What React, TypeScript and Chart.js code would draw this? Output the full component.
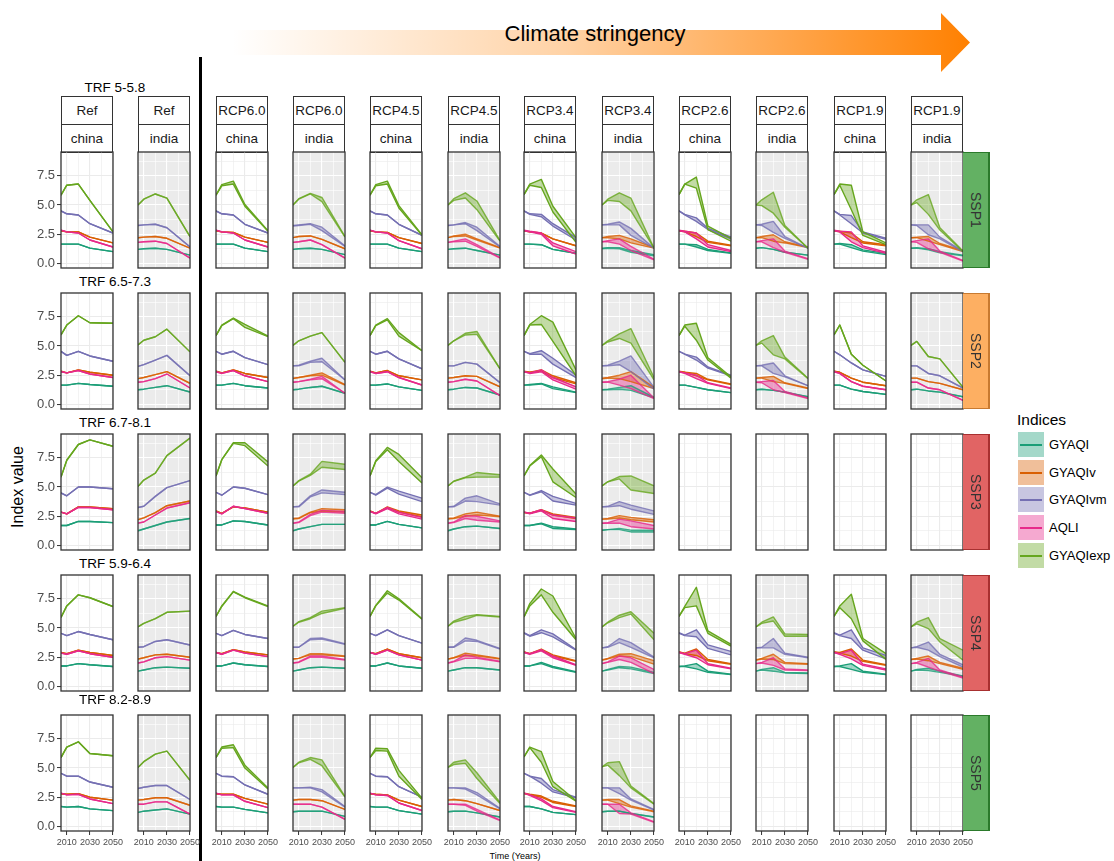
import React, { useEffect, useRef } from 'react';
import { Chart, registerables } from 'chart.js';
Chart.register(...registerables);
Chart.defaults.font.family = '"Liberation Sans", Arial, sans-serif';

// ---------------- data ----------------
const YEARS = [2005, 2010, 2020, 2030, 2050];
const X_TICKS = [2010, 2020, 2030, 2040, 2050];
const X_MAJOR = [2010, 2030, 2050];
const Y_TICKS = [0, 1.25, 2.5, 3.75, 5, 6.25, 7.5, 8.75];
const Y_MAJOR = [0, 2.5, 5, 7.5];
const SCENARIOS = ['Ref', 'Ref', 'RCP6.0', 'RCP6.0', 'RCP4.5', 'RCP4.5', 'RCP3.4', 'RCP3.4', 'RCP2.6', 'RCP2.6', 'RCP1.9', 'RCP1.9'];
const REGIONS = ['china', 'india', 'china', 'india', 'china', 'india', 'china', 'india', 'china', 'india', 'china', 'india'];
const SSP_LABELS = ['SSP1', 'SSP2', 'SSP3', 'SSP4', 'SSP5'];
const TRF_LABELS = ['TRF 5-5.8', 'TRF 6.5-7.3', 'TRF 6.7-8.1', 'TRF 5.9-6.4', 'TRF 8.2-8.9'];
const INDICES = ['GYAQI', 'GYAQIv', 'GYAQIvm', 'AQLI', 'GYAQIexp'];
const INDEX_COLORS = ['#1B9E77', '#D95F02', '#7570B3', '#E7298A', '#66A61E'];

type Entry = number[] | number[][] | null;

// each entry: one panel (column); either a single line or [low, high] band
const SSP1_GYAQI: Entry[] = [
  [1.65, 1.65, 1.65, 1.3, 1.0], [1.2, 1.25, 1.3, 1.2, 0.7], [1.65, 1.65, 1.65, 1.3, 1.0], [1.2, 1.25, 1.3, 1.2, 0.75],
  [1.65, 1.65, 1.65, 1.3, 1.0], [1.2, 1.25, 1.3, 1.1, 0.7], [1.65, 1.65, 1.6, 1.2, 0.85],
  [[1.25, 1.3, 1.25, 0.95, 0.65], [1.3, 1.35, 1.35, 1.1, 0.75]],
  [[1.65, 1.65, 1.4, 1.1, 0.85], [1.65, 1.65, 1.6, 1.2, 0.9]],
  [1.3, 1.35, 1.2, 0.95, 0.7],
  [[1.65, 1.65, 1.35, 1.05, 0.75], [1.65, 1.7, 1.6, 1.15, 0.85]],
  [[1.3, 1.3, 1.15, 0.9, 0.65], [1.3, 1.35, 1.25, 1.0, 0.7]],
];
const SSP1_GYAQIv: Entry[] = [
  [2.8, 2.7, 2.7, 2.25, 1.75], [2.2, 2.25, 2.3, 2.15, 1.3], [2.8, 2.7, 2.65, 2.25, 1.8], [2.2, 2.3, 2.35, 2.05, 1.25],
  [2.8, 2.7, 2.65, 2.2, 1.7],
  [[2.2, 2.3, 2.35, 2.0, 1.3], [2.2, 2.35, 2.5, 2.1, 1.35]],
  [2.8, 2.7, 2.6, 2.1, 1.5],
  [[2.2, 2.2, 2.1, 1.75, 1.3], [2.2, 2.3, 2.4, 2.1, 1.35]],
  [[2.8, 2.7, 2.3, 1.8, 1.5], [2.8, 2.75, 2.6, 1.9, 1.55]],
  [[2.2, 2.2, 1.9, 1.75, 1.35], [2.2, 2.3, 2.45, 1.85, 1.4]],
  [[2.8, 2.7, 2.2, 1.75, 1.5], [2.8, 2.75, 2.6, 1.85, 1.6]],
  [[2.2, 2.2, 1.9, 1.6, 1.0], [2.2, 2.25, 2.3, 1.7, 1.1]],
];
const SSP1_GYAQIvm: Entry[] = [
  [4.5, 4.25, 4.15, 3.4, 2.6], [3.25, 3.3, 3.35, 3.05, 1.4], [4.5, 4.25, 4.15, 3.35, 2.6],
  [[3.2, 3.25, 3.35, 2.8, 1.45], [3.25, 3.3, 3.4, 3.1, 1.5]],
  [4.5, 4.25, 4.15, 3.35, 2.4],
  [[3.25, 3.3, 3.4, 2.8, 1.4], [3.25, 3.3, 3.5, 3.1, 1.45]],
  [[4.5, 4.2, 4.0, 3.2, 2.0], [4.5, 4.25, 4.2, 3.4, 2.2]],
  [[3.3, 3.3, 3.3, 2.4, 1.3], [3.3, 3.35, 3.55, 3.0, 1.3]],
  [[4.5, 4.15, 3.6, 2.9, 2.1], [4.5, 4.2, 3.9, 3.0, 2.25]],
  [[3.3, 3.25, 2.65, 2.15, 1.3], [3.3, 3.35, 3.6, 2.3, 1.3]],
  [[4.5, 4.15, 3.4, 2.6, 2.05], [4.5, 4.2, 4.1, 2.7, 2.15]],
  [[3.3, 3.25, 2.45, 2.1, 1.0], [3.3, 3.3, 3.3, 2.25, 1.05]],
];
const SSP1_AQLI: Entry[] = [
  [2.85, 2.7, 2.6, 2.0, 1.4], [1.8, 1.85, 1.9, 1.7, 0.45], [2.85, 2.7, 2.6, 2.0, 1.4], [1.8, 1.85, 2.0, 1.6, 0.45],
  [2.85, 2.7, 2.6, 1.95, 1.25],
  [[1.8, 1.85, 1.9, 1.45, 0.45], [1.8, 1.9, 2.1, 1.6, 0.5]],
  [[2.8, 2.7, 2.5, 1.5, 0.8], [2.85, 2.75, 2.6, 1.75, 1.0]],
  [[1.85, 1.85, 1.65, 1.1, 0.3], [1.85, 1.95, 2.1, 1.45, 0.35]],
  [[2.8, 2.7, 2.1, 1.4, 1.0], [2.85, 2.75, 2.6, 1.6, 1.1]],
  [[1.85, 1.85, 1.35, 0.95, 0.35], [1.85, 1.95, 2.1, 1.05, 0.4]],
  [[2.8, 2.7, 1.85, 1.35, 0.85], [2.85, 2.75, 2.7, 1.5, 0.95]],
  [[1.85, 1.8, 1.25, 0.95, 0.2], [1.85, 1.95, 2.1, 1.05, 0.25]],
];
const SSP1_GYAQIexp: Entry[] = [
  [5.85, 6.7, 6.8, 5.4, 2.7], [5.0, 5.5, 5.95, 5.6, 2.3],
  [[5.85, 6.65, 6.8, 4.9, 2.75], [5.85, 6.75, 7.05, 5.05, 2.8]],
  [[5.0, 5.5, 5.95, 5.3, 2.25], [5.0, 5.55, 6.0, 5.65, 2.3]],
  [[5.85, 6.65, 6.8, 4.75, 2.4], [5.85, 6.75, 7.05, 4.95, 2.45]],
  [[5.0, 5.4, 5.6, 4.6, 1.9], [5.0, 5.55, 6.05, 5.35, 1.95]],
  [[5.9, 6.7, 6.5, 4.4, 1.8], [5.9, 6.8, 7.2, 4.9, 2.2]],
  [[5.0, 5.4, 5.3, 4.5, 1.3], [5.0, 5.5, 6.05, 5.6, 1.3]],
  [[5.9, 6.8, 6.45, 2.9, 1.9], [5.9, 6.8, 7.4, 3.2, 2.15]],
  [[5.0, 4.95, 4.3, 3.1, 1.3], [5.0, 5.45, 6.1, 3.25, 1.3]],
  [[5.9, 6.7, 4.6, 2.4, 1.6], [5.9, 6.8, 6.7, 2.7, 1.75]],
  [[5.0, 5.2, 4.2, 2.85, 1.0], [5.0, 5.45, 5.9, 3.05, 1.05]],
];

const SSP2_GYAQI: Entry[] = [
  [1.65, 1.65, 1.8, 1.7, 1.55], [1.25, 1.3, 1.45, 1.6, 1.05], [1.65, 1.65, 1.8, 1.6, 1.4], [1.25, 1.3, 1.45, 1.55, 0.95],
  [1.65, 1.65, 1.75, 1.5, 1.2], [1.25, 1.3, 1.45, 1.4, 0.8],
  [[1.65, 1.65, 1.75, 1.35, 1.0], [1.65, 1.7, 1.8, 1.5, 1.05]],
  [[1.25, 1.25, 1.3, 1.2, 0.55], [1.25, 1.3, 1.45, 1.6, 0.6]],
  [1.65, 1.65, 1.45, 1.25, 1.0], [1.25, 1.3, 1.2, 1.05, 0.65], [1.65, 1.65, 1.3, 1.1, 0.85], [1.25, 1.3, 1.15, 1.05, 0.65],
];
const SSP2_GYAQIv: Entry[] = [
  [2.85, 2.7, 2.95, 2.75, 2.5], [2.2, 2.3, 2.55, 2.8, 1.8], [2.85, 2.7, 2.95, 2.65, 2.3],
  [[2.2, 2.3, 2.45, 2.5, 1.65], [2.25, 2.3, 2.5, 2.7, 1.7]],
  [2.85, 2.7, 2.9, 2.45, 2.1], [2.25, 2.3, 2.45, 2.4, 1.5],
  [[2.8, 2.75, 2.85, 2.3, 1.75], [2.85, 2.75, 2.95, 2.45, 1.85]],
  [[2.2, 2.25, 2.2, 1.95, 1.35], [2.25, 2.3, 2.5, 2.8, 1.45]],
  [[2.8, 2.75, 2.45, 2.1, 1.7], [2.85, 2.75, 2.65, 2.15, 1.75]],
  [[2.25, 2.25, 1.95, 1.8, 1.35], [2.25, 2.3, 2.4, 1.85, 1.4]],
  [2.85, 2.75, 2.25, 1.9, 1.6], [2.25, 2.25, 1.95, 1.8, 1.25],
];
const SSP2_GYAQIvm: Entry[] = [
  [4.55, 4.2, 4.55, 4.15, 3.7], [3.25, 3.4, 3.8, 4.2, 2.45], [4.55, 4.3, 4.55, 4.0, 3.4],
  [[3.3, 3.3, 3.6, 3.65, 2.1], [3.3, 3.35, 3.7, 3.95, 2.1]],
  [4.55, 4.3, 4.55, 3.9, 3.05], [3.3, 3.3, 3.6, 3.45, 1.85],
  [[4.55, 4.3, 4.3, 3.45, 2.3], [4.55, 4.35, 4.6, 3.95, 2.5]],
  [[3.3, 3.3, 3.4, 2.8, 1.3], [3.3, 3.35, 3.7, 4.15, 1.45]],
  [[4.55, 4.3, 3.8, 3.1, 2.45], [4.55, 4.3, 4.05, 3.2, 2.5]],
  [[3.3, 3.3, 2.65, 2.35, 1.6], [3.3, 3.35, 3.55, 2.45, 1.6]],
  [4.55, 4.25, 3.55, 2.95, 2.4], [3.3, 3.3, 2.65, 2.45, 1.4],
];
const SSP2_AQLI: Entry[] = [
  [2.8, 2.7, 2.9, 2.6, 2.3], [1.9, 1.95, 2.2, 2.6, 1.4], [2.8, 2.65, 2.9, 2.45, 1.95],
  [[1.9, 1.95, 2.1, 2.2, 0.95], [1.9, 1.95, 2.15, 2.4, 0.95]],
  [2.8, 2.65, 2.8, 2.3, 1.65], [1.9, 1.95, 2.15, 2.0, 0.75],
  [[2.8, 2.65, 2.8, 2.1, 1.3], [2.8, 2.7, 2.95, 2.3, 1.5]],
  [[1.9, 1.9, 1.65, 1.35, 0.5], [1.9, 1.95, 2.15, 2.5, 0.55]],
  [[2.8, 2.65, 2.2, 1.8, 1.35], [2.8, 2.7, 2.5, 1.85, 1.4]],
  [[1.9, 1.85, 1.25, 1.0, 0.5], [1.9, 1.95, 2.05, 1.1, 0.55]],
  [2.8, 2.65, 1.95, 1.55, 1.25], [1.9, 1.9, 1.4, 1.25, 0.35],
];
const SSP2_GYAQIexp: Entry[] = [
  [5.95, 6.8, 7.6, 7.0, 6.95], [5.1, 5.5, 5.8, 6.45, 4.5],
  [[5.9, 6.75, 7.35, 6.6, 5.8], [5.9, 6.8, 7.4, 6.85, 5.85]],
  [5.05, 5.45, 5.85, 6.15, 3.6],
  [[5.9, 6.75, 7.25, 5.85, 4.6], [5.9, 6.8, 7.35, 6.15, 4.6]],
  [[5.05, 5.45, 5.95, 6.0, 3.05], [5.05, 5.45, 6.1, 6.25, 3.05]],
  [[5.9, 6.8, 6.85, 5.4, 2.45], [5.9, 6.85, 7.6, 7.05, 2.95]],
  [[5.05, 5.35, 5.65, 5.25, 2.1], [5.05, 5.45, 6.05, 6.5, 2.3]],
  [[5.9, 6.7, 5.5, 3.8, 2.25], [5.9, 6.8, 6.95, 4.0, 2.35]],
  [[5.05, 5.25, 4.25, 3.9, 2.2], [5.05, 5.45, 5.9, 4.05, 2.25]],
  [5.95, 6.8, 4.3, 3.35, 2.0], [5.05, 5.4, 4.1, 3.9, 1.45],
];

const SSP3_GYAQI: Entry[] = [
  [1.7, 1.7, 2.05, 2.05, 1.95], [1.25, 1.4, 1.7, 2.0, 2.3], [1.75, 1.75, 2.1, 2.05, 1.75], [1.25, 1.4, 1.6, 1.8, 1.8],
  [1.75, 1.75, 2.05, 1.8, 1.5], [1.25, 1.4, 1.6, 1.65, 1.45],
  [[1.7, 1.7, 1.85, 1.45, 1.35], [1.7, 1.7, 1.9, 1.6, 1.4]],
  [[1.3, 1.35, 1.35, 1.15, 1.15], [1.3, 1.35, 1.45, 1.3, 1.3]],
  null, null, null, null,
];
const SSP3_GYAQIv: Entry[] = [
  [2.85, 2.7, 3.3, 3.3, 3.15], [2.2, 2.35, 2.8, 3.4, 3.8], [2.95, 2.75, 3.3, 3.2, 2.85],
  [[2.25, 2.3, 2.8, 2.95, 2.85], [2.3, 2.35, 2.85, 3.15, 3.05]],
  [[2.95, 2.75, 3.2, 2.85, 2.45], [2.95, 2.75, 3.3, 2.95, 2.6]],
  [[2.25, 2.3, 2.5, 2.6, 2.45], [2.3, 2.35, 2.7, 2.85, 2.5]],
  [[2.8, 2.75, 3.0, 2.6, 2.3], [2.85, 2.75, 3.05, 2.7, 2.4]],
  [[2.25, 2.25, 2.35, 2.2, 2.0], [2.25, 2.3, 2.55, 2.4, 2.2]],
  null, null, null, null,
];
const SSP3_GYAQIvm: Entry[] = [
  [4.5, 4.25, 5.0, 5.0, 4.85], [3.25, 3.35, 4.2, 4.95, 5.55], [4.55, 4.3, 5.0, 4.9, 4.35],
  [[3.3, 3.3, 4.15, 4.5, 4.35], [3.3, 3.35, 4.25, 4.75, 4.55]],
  [[4.55, 4.3, 4.9, 4.4, 3.75], [4.55, 4.35, 5.0, 4.65, 4.05]],
  [[3.3, 3.3, 3.8, 3.75, 3.45], [3.3, 3.35, 4.05, 4.25, 3.55]],
  [[4.55, 4.3, 4.6, 3.8, 3.45], [4.55, 4.3, 4.7, 4.2, 3.6]],
  [[3.3, 3.3, 3.4, 3.1, 2.65], [3.3, 3.35, 3.75, 3.45, 2.95]],
  null, null, null, null,
];
const SSP3_AQLI: Entry[] = [
  [2.85, 2.7, 3.25, 3.25, 3.05], [1.9, 2.0, 2.6, 3.2, 3.65], [2.9, 2.7, 3.35, 3.15, 2.75],
  [[1.9, 1.95, 2.55, 2.85, 2.75], [1.9, 2.0, 2.65, 3.0, 2.9]],
  [[2.9, 2.7, 3.15, 2.7, 2.25], [2.9, 2.75, 3.25, 2.85, 2.4]],
  [[1.9, 1.95, 2.3, 2.15, 2.0], [1.9, 2.0, 2.55, 2.5, 2.1]],
  [[2.85, 2.7, 2.95, 2.3, 2.05], [2.85, 2.75, 3.05, 2.6, 2.35]],
  [[1.9, 1.9, 1.9, 1.6, 1.4], [1.9, 1.95, 2.25, 2.1, 1.7]],
  null, null, null, null,
];
const SSP3_GYAQIexp: Entry[] = [
  [5.85, 7.3, 8.65, 9.05, 8.5], [5.05, 5.6, 6.2, 7.7, 9.2],
  [[5.95, 7.35, 8.75, 8.55, 6.8], [5.95, 7.35, 8.8, 8.8, 7.15]],
  [[5.1, 5.5, 6.0, 6.7, 6.5], [5.1, 5.55, 6.1, 7.2, 6.95]],
  [[5.95, 7.2, 8.2, 7.2, 5.35], [5.95, 7.25, 8.4, 7.8, 5.8]],
  [[5.1, 5.5, 5.8, 5.85, 5.85], [5.1, 5.5, 5.85, 6.25, 6.05]],
  [[5.95, 6.8, 7.6, 5.45, 4.1], [5.95, 6.85, 7.75, 6.55, 4.4]],
  [[5.1, 5.45, 5.7, 4.75, 4.45], [5.1, 5.45, 5.9, 5.95, 5.1]],
  null, null, null, null,
];

const SSP4_GYAQI: Entry[] = [
  [1.75, 1.75, 1.95, 1.85, 1.7], [1.3, 1.4, 1.6, 1.65, 1.55], [1.75, 1.75, 2.0, 1.85, 1.7], [1.3, 1.4, 1.6, 1.65, 1.55],
  [1.75, 1.75, 2.0, 1.75, 1.55], [1.3, 1.4, 1.6, 1.6, 1.4],
  [[1.75, 1.75, 1.95, 1.6, 1.2], [1.75, 1.75, 2.05, 1.7, 1.25]],
  [[1.3, 1.4, 1.6, 1.5, 1.1], [1.3, 1.45, 1.7, 1.65, 1.2]],
  [[1.7, 1.7, 1.5, 1.2, 1.0], [1.7, 1.75, 1.95, 1.3, 1.05]],
  [[1.3, 1.4, 1.3, 1.15, 1.1], [1.3, 1.45, 1.6, 1.2, 1.15]],
  [[1.7, 1.7, 1.45, 1.2, 1.0], [1.7, 1.75, 1.95, 1.3, 1.05]],
  [[1.3, 1.4, 1.35, 1.2, 0.85], [1.3, 1.45, 1.55, 1.3, 0.9]],
];
const SSP4_GYAQIv: Entry[] = [
  [2.9, 2.8, 3.1, 2.9, 2.65], [2.35, 2.45, 2.7, 2.75, 2.5], [2.9, 2.8, 3.15, 2.95, 2.7],
  [[2.35, 2.4, 2.7, 2.7, 2.55], [2.35, 2.4, 2.8, 2.8, 2.6]],
  [2.9, 2.8, 3.2, 2.8, 2.45],
  [[2.35, 2.45, 2.65, 2.6, 2.35], [2.35, 2.45, 2.85, 2.7, 2.4]],
  [[2.95, 2.8, 3.1, 2.6, 2.15], [2.95, 2.8, 3.2, 2.7, 2.2]],
  [[2.25, 2.35, 2.6, 2.55, 1.9], [2.25, 2.4, 2.75, 2.8, 2.2]],
  [[2.95, 2.8, 2.65, 2.2, 1.9], [2.95, 2.85, 3.2, 2.3, 1.95]],
  [[2.25, 2.35, 2.3, 1.95, 1.9], [2.25, 2.4, 2.75, 2.05, 1.95]],
  [[2.95, 2.85, 2.6, 2.15, 1.8], [2.95, 2.9, 3.2, 2.25, 1.85]],
  [[2.3, 2.35, 2.2, 1.95, 1.45], [2.3, 2.4, 2.6, 2.05, 1.55]],
];
const SSP4_GYAQIvm: Entry[] = [
  [4.55, 4.35, 4.7, 4.45, 4.0], [3.35, 3.4, 3.85, 4.0, 3.55], [4.55, 4.35, 4.8, 4.45, 4.1],
  [[3.35, 3.35, 4.0, 4.05, 3.6], [3.35, 3.35, 4.1, 4.15, 3.65]],
  [4.55, 4.35, 4.85, 4.35, 3.7],
  [[3.35, 3.35, 3.9, 3.85, 3.2], [3.35, 3.4, 4.15, 3.95, 3.25]],
  [[4.55, 4.3, 4.6, 4.25, 3.1], [4.6, 4.35, 4.85, 4.5, 3.15]],
  [[3.3, 3.35, 3.75, 3.35, 2.45], [3.3, 3.4, 4.1, 3.75, 2.5]],
  [[4.55, 4.35, 4.25, 3.25, 2.7], [4.6, 4.4, 4.85, 3.55, 3.0]],
  [[3.3, 3.3, 3.3, 2.75, 2.45], [3.3, 3.35, 4.1, 2.85, 2.5]],
  [[4.55, 4.35, 4.1, 3.1, 2.35], [4.6, 4.4, 4.85, 3.3, 2.65]],
  [[3.3, 3.35, 3.1, 2.55, 1.65], [3.3, 3.4, 3.8, 2.75, 1.85]],
];
const SSP4_AQLI: Entry[] = [
  [2.85, 2.75, 3.05, 2.8, 2.5], [2.0, 2.1, 2.45, 2.55, 2.25], [2.9, 2.75, 3.1, 2.85, 2.55],
  [[2.0, 2.05, 2.5, 2.5, 2.25], [2.0, 2.1, 2.6, 2.6, 2.3]],
  [2.9, 2.75, 3.1, 2.7, 2.25],
  [[2.0, 2.1, 2.4, 2.4, 2.1], [2.0, 2.15, 2.7, 2.5, 2.15]],
  [[2.9, 2.75, 3.05, 2.45, 1.8], [2.9, 2.8, 3.15, 2.6, 1.85]],
  [[1.95, 2.05, 2.3, 2.05, 1.1], [1.95, 2.1, 2.6, 2.45, 1.45]],
  [[2.9, 2.75, 2.45, 1.85, 1.5], [2.9, 2.8, 3.1, 1.95, 1.55]],
  [[1.95, 2.0, 1.8, 1.4, 1.35], [1.95, 2.05, 2.45, 1.5, 1.4]],
  [[2.9, 2.75, 2.35, 1.8, 1.4], [2.9, 2.8, 3.1, 1.9, 1.5]],
  [[1.95, 2.0, 1.65, 1.3, 0.7], [1.95, 2.05, 2.4, 1.4, 0.8]],
];
const SSP4_GYAQIexp: Entry[] = [
  [5.9, 6.9, 7.85, 7.6, 6.85], [5.1, 5.4, 5.8, 6.35, 6.45],
  [[6.0, 6.85, 8.1, 7.6, 6.85], [6.0, 6.9, 8.15, 7.65, 6.9]],
  [[5.15, 5.5, 5.8, 6.25, 6.7], [5.15, 5.55, 5.9, 6.45, 6.75]],
  [[6.0, 6.9, 8.0, 7.4, 5.75], [6.0, 6.95, 8.2, 7.5, 5.8]],
  [[5.15, 5.5, 5.75, 6.1, 5.95], [5.15, 5.6, 6.0, 6.15, 6.0]],
  [[5.95, 6.9, 7.85, 6.35, 4.0], [5.95, 7.1, 8.35, 7.75, 4.1]],
  [[5.1, 5.45, 5.9, 6.2, 4.0], [5.1, 5.5, 6.1, 6.4, 4.55]],
  [[6.0, 6.75, 6.9, 4.55, 3.45], [6.0, 6.85, 8.5, 4.75, 3.6]],
  [[5.1, 5.4, 5.6, 4.3, 4.3], [5.1, 5.5, 5.95, 4.5, 4.45]],
  [[6.0, 6.75, 5.8, 3.9, 2.3], [6.0, 6.9, 7.9, 4.1, 2.8]],
  [[5.1, 5.35, 4.95, 3.8, 2.25], [5.1, 5.5, 5.9, 4.1, 3.1]],
];

const SSP5_GYAQI: Entry[] = [
  [1.7, 1.65, 1.7, 1.5, 1.35], [1.2, 1.3, 1.4, 1.5, 1.05], [1.7, 1.65, 1.65, 1.45, 1.15], [1.25, 1.3, 1.3, 1.3, 0.85],
  [1.7, 1.65, 1.65, 1.35, 1.05], [1.25, 1.3, 1.3, 1.15, 0.8], [1.7, 1.7, 1.5, 1.2, 1.0], [1.25, 1.3, 1.3, 1.1, 0.8],
  null, null, null, null,
];
const SSP5_GYAQIv: Entry[] = [
  [2.8, 2.75, 2.8, 2.5, 2.25], [2.25, 2.3, 2.45, 2.45, 1.8], [2.8, 2.75, 2.75, 2.4, 1.9], [2.25, 2.3, 2.3, 2.2, 1.45],
  [2.8, 2.75, 2.7, 2.25, 1.7], [2.25, 2.3, 2.2, 1.95, 1.35],
  [[2.8, 2.7, 2.5, 2.05, 1.7], [2.85, 2.75, 2.6, 2.15, 1.75]],
  [[2.25, 2.25, 1.95, 1.65, 1.25], [2.25, 2.3, 2.3, 1.75, 1.3]],
  null, null, null, null,
];
const SSP5_GYAQIvm: Entry[] = [
  [4.55, 4.3, 4.3, 3.8, 3.35], [3.25, 3.35, 3.5, 3.5, 2.3], [4.55, 4.3, 4.25, 3.55, 2.75],
  [[3.3, 3.3, 3.3, 2.95, 1.65], [3.3, 3.3, 3.35, 3.15, 1.7]],
  [4.55, 4.3, 4.25, 3.4, 2.5],
  [[3.3, 3.3, 3.2, 2.7, 1.5], [3.3, 3.3, 3.3, 2.9, 1.55]],
  [[4.55, 4.3, 3.7, 2.95, 2.45], [4.55, 4.3, 4.1, 3.15, 2.5]],
  [[3.3, 3.3, 2.8, 2.25, 1.4], [3.3, 3.3, 3.3, 2.35, 1.45]],
  null, null, null, null,
];
const SSP5_AQLI: Entry[] = [
  [2.85, 2.7, 2.75, 2.35, 1.95], [1.9, 1.9, 2.1, 2.1, 1.05], [2.85, 2.7, 2.7, 2.15, 1.6], [1.9, 1.9, 1.9, 1.65, 0.6],
  [2.85, 2.7, 2.65, 2.0, 1.35],
  [[1.9, 1.9, 1.8, 1.3, 0.5], [1.9, 1.9, 1.9, 1.45, 0.55]],
  [[2.85, 2.65, 2.2, 1.6, 1.2], [2.85, 2.7, 2.35, 1.7, 1.25]],
  [[1.9, 1.9, 1.1, 1.05, 0.35], [1.9, 1.9, 1.9, 1.15, 0.4]],
  null, null, null, null,
];
const SSP5_GYAQIexp: Entry[] = [
  [5.9, 6.8, 7.25, 6.25, 6.05], [5.05, 5.55, 6.2, 6.45, 3.95],
  [[5.9, 6.7, 6.75, 5.0, 3.2], [5.9, 6.8, 7.0, 5.25, 3.3]],
  [[5.05, 5.45, 5.75, 5.2, 2.5], [5.05, 5.5, 5.9, 5.7, 2.55]],
  [[5.9, 6.5, 6.45, 4.3, 2.3], [5.9, 6.7, 6.65, 4.8, 2.4]],
  [[5.05, 5.3, 5.4, 4.1, 1.95], [5.05, 5.5, 5.7, 4.6, 2.05]],
  [[5.95, 6.75, 5.5, 3.4, 2.15], [5.95, 6.8, 6.4, 3.85, 2.2]],
  [[5.1, 5.25, 4.35, 3.3, 1.9], [5.1, 5.45, 5.55, 3.45, 1.95]],
  null, null, null, null,
];

const ROW_SERIES: Entry[][][] = [
  [SSP1_GYAQI, SSP1_GYAQIv, SSP1_GYAQIvm, SSP1_AQLI, SSP1_GYAQIexp],
  [SSP2_GYAQI, SSP2_GYAQIv, SSP2_GYAQIvm, SSP2_AQLI, SSP2_GYAQIexp],
  [SSP3_GYAQI, SSP3_GYAQIv, SSP3_GYAQIvm, SSP3_AQLI, SSP3_GYAQIexp],
  [SSP4_GYAQI, SSP4_GYAQIv, SSP4_GYAQIvm, SSP4_AQLI, SSP4_GYAQIexp],
  [SSP5_GYAQI, SSP5_GYAQIv, SSP5_GYAQIvm, SSP5_AQLI, SSP5_GYAQIexp],
];

// ---------------- layout ----------------
const COL_X = [61, 138, 216, 293, 370, 448, 524, 602, 679, 756, 834, 911];
const ROW_Y = [152, 293, 434, 575, 715];
const PANEL_W = 52;
const PANEL_H = 116;
const AXW = 31;
const AXH = 18;
const SSP_FILL = ['#63B163', '#FDAF62', '#E16464', '#E16464', '#63B163'];
const SSP_EDGE = ['#2B7A2B', '#C87A30', '#A83030', '#A83030', '#2B7A2B'];
const FONT = '"Liberation Sans", Arial, Helvetica, sans-serif';

function rgba(hex: string, a: number) {
  const n = parseInt(hex.slice(1), 16);
  return `rgba(${(n >> 16) & 255},${(n >> 8) & 255},${n & 255},${a})`;
}

function band(e: Entry): [number[], number[]] | null {
  if (!e) return null;
  if (Array.isArray(e[0])) return [e[0] as number[], e[1] as number[]];
  return [e as number[], e as number[]];
}

const framePlugin = {
  id: 'panelFrame',
  beforeDraw(chart: any, _a: any, opts: any) {
    if (!opts.bg) return;
    const { ctx, chartArea: a } = chart;
    ctx.save();
    ctx.fillStyle = opts.bg;
    ctx.fillRect(a.left, a.top, a.right - a.left, a.bottom - a.top);
    ctx.restore();
  },
  afterDraw(chart: any) {
    const { ctx, chartArea: a } = chart;
    ctx.save();
    ctx.strokeStyle = '#333333';
    ctx.lineWidth = 1.3;
    ctx.strokeRect(a.left, a.top, a.right - a.left, a.bottom - a.top);
    ctx.restore();
  },
};

function Panel({ r, c }: { r: number; c: number }) {
  const ref = useRef<HTMLCanvasElement>(null);
  const leftAxis = c === 0;
  const bottomAxis = r === 4;
  const padL = leftAxis ? AXW + 2 : bottomAxis ? 12 : 2;
  const padR = bottomAxis ? 12 : 2;
  const padT = 2;
  const padB = bottomAxis ? AXH + 2 : 2;
  const w = PANEL_W + padL + padR;
  const h = PANEL_H + padT + padB;

  useEffect(() => {
    const series = ROW_SERIES[r];
    const hasData = series.some((s) => s[c] !== null);
    const india = REGIONS[c] === 'india' && hasData;
    const gridColor = india ? '#FFFFFF' : '#EBEBEB';
    const datasets: any[] = [];
    series.forEach((s, si) => {
      const b = band(s[c]);
      if (!b) return;
      const col = INDEX_COLORS[si];
      const line = india ? rgba(col, 0.8) : col;
      const base = {
        borderColor: line,
        borderWidth: 1.4,
        pointRadius: 0,
        tension: 0,
        borderJoinStyle: 'round',
        order: 5 - si,
      };
      datasets.push({ ...base, label: INDICES[si] + ' low', data: YEARS.map((x, i) => ({ x, y: b[0][i] })), fill: false });
      datasets.push({
        ...base,
        label: INDICES[si] + ' high',
        data: YEARS.map((x, i) => ({ x, y: b[1][i] })),
        fill: '-1',
        backgroundColor: rgba(col, 0.4),
      });
    });

    const chart = new Chart(ref.current as HTMLCanvasElement, {
      type: 'line',
      data: { datasets },
      plugins: [framePlugin],
      options: {
        animation: false,
        responsive: false,
        devicePixelRatio: 1,
        events: [],
        layout: {
          autoPadding: false,
          padding: { left: padL - (leftAxis ? AXW : 0), right: padR, top: padT, bottom: padB - (bottomAxis ? AXH : 0) },
        },
        plugins: {
          legend: { display: false },
          tooltip: { enabled: false },
          filler: { drawTime: 'beforeDatasetsDraw' },
          panelFrame: { bg: india ? '#EBEBEB' : null },
        } as any,
        scales: {
          x: {
            type: 'linear',
            min: 2005,
            max: 2050,
            afterBuildTicks: (sc: any) => {
              sc.ticks = X_TICKS.map((v) => ({ value: v }));
            },
            afterFit: (sc: any) => {
              sc.height = bottomAxis ? AXH : 0;
              sc.paddingLeft = 0;
              sc.paddingRight = 0;
              sc.paddingTop = 0;
              sc.paddingBottom = 0;
            },
            border: { display: false },
            grid: {
              color: gridColor,
              lineWidth: (ctx: any) => (X_MAJOR.includes(ctx.tick?.value) ? 1.1 : 0.6),
              drawTicks: bottomAxis,
              tickLength: 4,
              tickWidth: 1,
              tickColor: (ctx: any) => (X_MAJOR.includes(ctx.tick?.value) ? '#333333' : 'rgba(0,0,0,0)'),
            },
            ticks: {
              display: bottomAxis,
              autoSkip: false,
              maxRotation: 0,
              minRotation: 0,
              padding: 2,
              color: '#4D4D4D',
              font: { size: 9 },
              callback: (v: any) => (X_MAJOR.includes(Number(v)) ? String(v) : ''),
            },
          },
          y: {
            type: 'linear',
            min: -0.4,
            max: 9.55,
            afterBuildTicks: (sc: any) => {
              sc.ticks = Y_TICKS.map((v) => ({ value: v }));
            },
            afterFit: (sc: any) => {
              sc.width = leftAxis ? AXW : 0;
              sc.paddingLeft = 0;
              sc.paddingRight = 0;
              sc.paddingTop = 0;
              sc.paddingBottom = 0;
            },
            border: { display: false },
            grid: {
              color: gridColor,
              lineWidth: (ctx: any) => (Y_MAJOR.includes(ctx.tick?.value) ? 1.1 : 0.6),
              drawTicks: leftAxis,
              tickLength: 4,
              tickWidth: 1,
              tickColor: (ctx: any) => (Y_MAJOR.includes(ctx.tick?.value) ? '#333333' : 'rgba(0,0,0,0)'),
            },
            ticks: {
              display: leftAxis,
              padding: 2,
              color: '#4D4D4D',
              font: { size: 13 },
              callback: (v: any) => (Y_MAJOR.includes(Number(v)) ? Number(v).toFixed(1) : ''),
            },
          },
        },
      } as any,
    });
    return () => chart.destroy();
  }, [r, c]);

  return (
    <canvas
      ref={ref}
      width={w}
      height={h}
      style={{ position: 'absolute', left: COL_X[c] - padL, top: ROW_Y[r] - padT, width: w, height: h }}
    />
  );
}

const abs = (s: React.CSSProperties): React.CSSProperties => ({ position: 'absolute', ...s });

export default function App() {
  const panels: React.ReactNode[] = [];
  for (let r = 0; r < 5; r++) for (let c = 0; c < 12; c++) panels.push(<Panel key={`${r}-${c}`} r={r} c={c} />);

  const TITLE_Y = [88, 282, 423, 564, 700];
  const KEY_Y = [432, 460, 487, 515, 543];

  return (
    <div style={abs({ left: 0, top: 0, width: 1114, height: 861, background: '#FFFFFF', fontFamily: FONT, overflow: 'hidden' })}>
      <svg style={abs({ left: 0, top: 0 })} width={1114} height={80}>
        <defs>
          <linearGradient id="arrowGrad" x1="232" x2="972" y1="0" y2="0" gradientUnits="userSpaceOnUse">
            <stop offset="0" stopColor="#FF8000" stopOpacity="0" />
            <stop offset="0.45" stopColor="#FF8000" stopOpacity="0.35" />
            <stop offset="1" stopColor="#FF8000" stopOpacity="1" />
          </linearGradient>
        </defs>
        <polygon points="232,30 941,30 941,13 970,42.5 941,72 941,55 232,55" fill="url(#arrowGrad)" />
        <text x={595} y={41} textAnchor="middle" fontSize={22} fontFamily={FONT} fill="#000">
          Climate stringency
        </text>
      </svg>

      <div style={abs({ left: 199, top: 57, width: 3, height: 804, background: '#000' })} />

      {SCENARIOS.map((s, c) => (
        <React.Fragment key={'strip' + c}>
          <div
            style={abs({
              left: COL_X[c], top: 96, width: PANEL_W, height: 29, boxSizing: 'border-box', border: '1.3px solid #333',
              background: '#fff', display: 'flex', alignItems: 'center', justifyContent: 'center', fontSize: 13.5, color: '#1A1A1A',
            })}
          >
            {s}
          </div>
          <div
            style={abs({
              left: COL_X[c], top: 124, width: PANEL_W, height: 29, boxSizing: 'border-box', border: '1.3px solid #333',
              background: '#fff', display: 'flex', alignItems: 'center', justifyContent: 'center', fontSize: 13.5, color: '#1A1A1A',
            })}
          >
            {REGIONS[c]}
          </div>
        </React.Fragment>
      ))}

      {panels}

      {TRF_LABELS.map((t, r) => (
        <div key={'trf' + r} style={abs({ left: 45, top: TITLE_Y[r] - 8, width: 140, textAlign: 'center', fontSize: 13.5, lineHeight: '16px', color: '#000' })}>
          {t}
        </div>
      ))}

      {SSP_LABELS.map((s, r) => (
        <div
          key={'ssp' + r}
          style={abs({
            left: 963, top: ROW_Y[r], width: 27, height: PANEL_H, boxSizing: 'border-box', background: SSP_FILL[r],
            borderRight: `2px solid ${SSP_EDGE[r]}`, borderTop: `1px solid ${SSP_EDGE[r]}`, borderBottom: `1px solid ${SSP_EDGE[r]}`,
            display: 'flex', alignItems: 'center', justifyContent: 'center',
          })}
        >
          <span style={{ writingMode: 'vertical-rl', fontSize: 14, color: '#333' }}>{s}</span>
        </div>
      ))}

      <div style={abs({ left: 18, top: 487, transform: 'translate(-50%,-50%) rotate(-90deg)', fontSize: 16, whiteSpace: 'nowrap', color: '#000' })}>
        Index value
      </div>
      <div style={abs({ left: 515, top: 856, transform: 'translate(-50%,-50%)', fontSize: 9, whiteSpace: 'nowrap', color: '#000' })}>
        Time (Years)
      </div>

      <div style={abs({ left: 1017, top: 410, fontSize: 15.5, lineHeight: '20px', color: '#000' })}>Indices</div>
      {INDICES.map((name, i) => (
        <React.Fragment key={'leg' + i}>
          <div style={abs({ left: 1018, top: KEY_Y[i], width: 26, height: 25, background: rgba(INDEX_COLORS[i], 0.4) })}>
            <div style={abs({ left: 2, top: 11.5, width: 22, height: 2, background: INDEX_COLORS[i] })} />
          </div>
          <div style={abs({ left: 1049, top: KEY_Y[i] + 4, fontSize: 13, lineHeight: '17px', color: '#000' })}>{name}</div>
        </React.Fragment>
      ))}
    </div>
  );
}
